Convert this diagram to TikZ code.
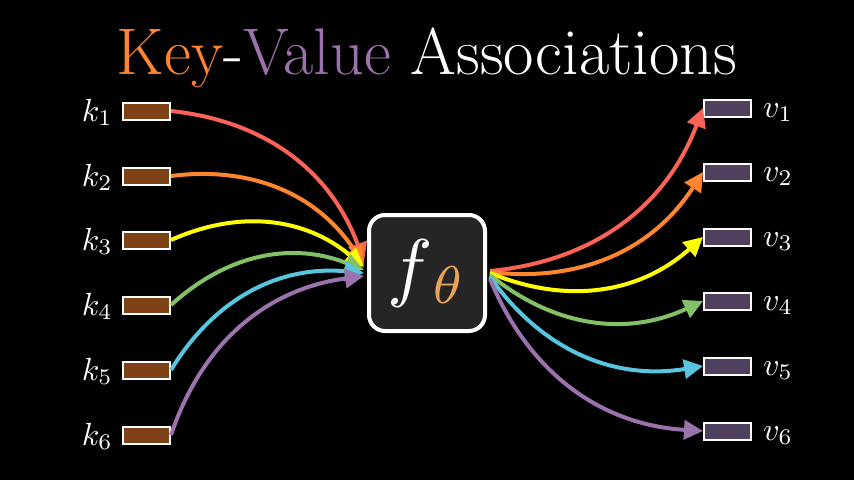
\documentclass[tikz,border=0pt]{standalone}
\usepackage{graphicx}
\usetikzlibrary{arrows.meta}
\definecolor{cred}{HTML}{FC6255}
\definecolor{corange}{HTML}{FF862F}
\definecolor{cyellow}{HTML}{FFFF00}
\definecolor{cgreen}{HTML}{83C167}
\definecolor{cblue}{HTML}{58C4DD}
\definecolor{cpurple}{HTML}{9A72AC}
\definecolor{keyfill}{HTML}{7F4216}
\definecolor{valfill}{HTML}{503F5F}
\definecolor{boxfill}{HTML}{252525}
\definecolor{thetacol}{HTML}{E8A25A}
\begin{document}
\begin{tikzpicture}[x=1pt,y=-1pt,
  keybox/.style={draw=white,line width=2pt,fill=keyfill,minimum width=47pt,minimum height=17pt,inner sep=0pt},
  valbox/.style={draw=white,line width=2pt,fill=valfill,minimum width=47pt,minimum height=17pt,inner sep=0pt},
  lab/.style={text=white,inner sep=0pt},
  conn/.style={line width=4pt,-{Triangle[length=19pt,width=19pt]}},
]
\fill[black] (0,0) rectangle (854,480);
\useasboundingbox (0,0) rectangle (854,480);
\node[inner sep=0pt,anchor=base,font=\fontsize{66}{66}\selectfont] (title) at (427,74)
  {\textcolor{corange}{Key}\textcolor{white}{-}\textcolor{cpurple}{Value} \textcolor{white}{Associations}};
\node[draw=white,line width=4pt,fill=boxfill,rounded corners=16pt,minimum size=116pt,inner sep=0pt] (fbox) at (427,273)
  {\scalebox{7.6}{$\textcolor{white}{f}_{\textcolor{thetacol}{\theta}}$}};
\foreach \i/\y/\c in {1/111/cred,2/176/corange,3/240/cyellow,4/305/cgreen,5/370/cblue,6/435/cpurple}{
  \node[keybox] (k\i) at (146.5,\y) {};
  \node[lab,anchor=base east] (kl\i) at (113,\y+10) {\scalebox{3.2}{$k_{\i}$}};
}
\foreach \i/\y in {1/108,2/172,3/237,4/301,5/366,6/431}{
  \node[valbox] (v\i) at (727.5,\y) {};
  \node[lab,anchor=base west] (vl\i) at (763,\y+9) {\scalebox{3.2}{$v_{\i}$}};
}
\foreach \i/\ey/\sy in {1/262/271,2/265/272,3/267/273,4/270/275,5/273/277,6/276/279}{
  \coordinate (in\i) at (364,\ey);
  \coordinate (out\i) at (490,\sy);
}
\foreach \i/\c in {1/cred,2/corange,3/cyellow,4/cgreen,5/cblue,6/cpurple}{
  \draw[conn,draw=\c] (k\i.east) to[bend left=32] (in\i);
  \draw[conn,draw=\c] (out\i) to[bend right=32] (v\i.west);
}
\end{tikzpicture}
\end{document}
